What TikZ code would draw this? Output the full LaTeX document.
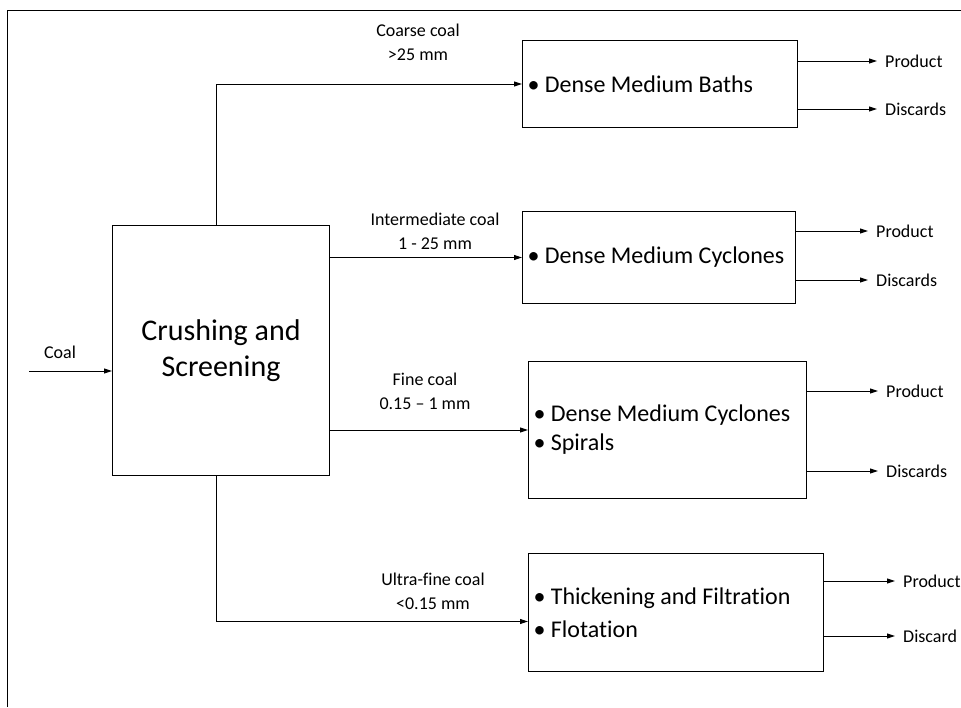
\documentclass[tikz,border=0pt]{standalone}
\usepackage{fontspec}
\setmainfont{Carlito}[Ligatures=NoCommon]
\usetikzlibrary{arrows.meta}
\begin{document}
\begin{tikzpicture}[x=1pt,y=-1pt,
  lbl/.style={font=\fontsize{18}{24}\selectfont, align=center, inner sep=0pt},
  outl/.style={font=\fontsize{18}{22}\selectfont, anchor=west, inner xsep=8pt, inner ysep=0pt},
  proc/.style={draw, line width=1pt, anchor=north west, inner xsep=5pt, font=\fontsize{24}{29}\selectfont, align=flush left},
  arr/.style={line width=1pt, -{Triangle[length=8pt,width=5pt]}},
  plain/.style={line width=1pt}]
\useasboundingbox (0,0) rectangle (961,707);
\draw[plain] (7,707) -- (7,10) -- (961,10);
% main box
\node[draw, line width=1pt, minimum width=217pt, minimum height=250pt, anchor=north west, align=center, font=\fontsize{30}{36}\selectfont] (cs) at (112,225) {Crushing and\\Screening};
% feed
\coordinate (cin) at (29,371);
\node[lbl] (coal) at (60,352) {Coal};
\draw[arr] (cin) -- (cin -| cs.west);
% process boxes
\node[proc, text width=265pt, minimum height=87pt] (b1) at (522,40) {\textbullet\ Dense Medium Baths};
\node[proc, text width=263pt, minimum height=92pt] (b2) at (522,211) {\textbullet\ Dense Medium Cyclones};
\node[proc, text width=268pt, minimum height=137pt] (b3) at (528,361) {\textbullet\ Dense Medium Cyclones\\\textbullet\ Spirals};
\node[proc, text width=285pt, minimum height=118pt, font=\fontsize{24}{33}\selectfont] (b4) at (528,553) {\textbullet\ Thickening and Filtration\\\textbullet\ Flotation};
% size fraction labels
\node[lbl] (l1) at (418,42) {Coarse coal\\>25 mm};
\node[lbl] (l2) at (435,231) {Intermediate coal\\1 - 25 mm};
\node[lbl] (l3) at (425,391) {Fine coal\\0.15 – 1 mm};
\node[lbl] (l4) at (433,591) {Ultra-fine coal\\<0.15 mm};
% feed connectors
\draw[arr] ([xshift=-4.5pt]cs.north) |- (b1.west);
\draw[arr] (cs.east |- b2.west) -- (b2.west);
\draw[arr] (cs.east |- b3.west) -- (b3.west);
\draw[arr] ([xshift=-4.5pt]cs.south) |- ([yshift=-9pt]b4.west);
% outputs
\node[outl] (p1) at (877,61) {Product};
\node[outl] (d1) at (877,109) {Discards};
\node[outl] (p2) at (868,231) {Product};
\node[outl] (d2) at (868,280) {Discards};
\node[outl] (p3) at (878,391) {Product};
\node[outl] (d3) at (878,471) {Discards};
\node[outl] (p4) at (895,581) {Product};
\node[outl] (d4) at (895,636) {Discard};
\draw[arr] (b1.east |- p1.west) -- (p1.west);
\draw[arr] (b1.east |- d1.west) -- (d1.west);
\draw[arr] (b2.east |- p2.west) -- (p2.west);
\draw[arr] (b2.east |- d2.west) -- (d2.west);
\draw[arr] (b3.east |- p3.west) -- (p3.west);
\draw[arr] (b3.east |- d3.west) -- (d3.west);
\draw[arr] (b4.east |- p4.west) -- (p4.west);
\draw[arr] (b4.east |- d4.west) -- (d4.west);
\end{tikzpicture}
\end{document}
